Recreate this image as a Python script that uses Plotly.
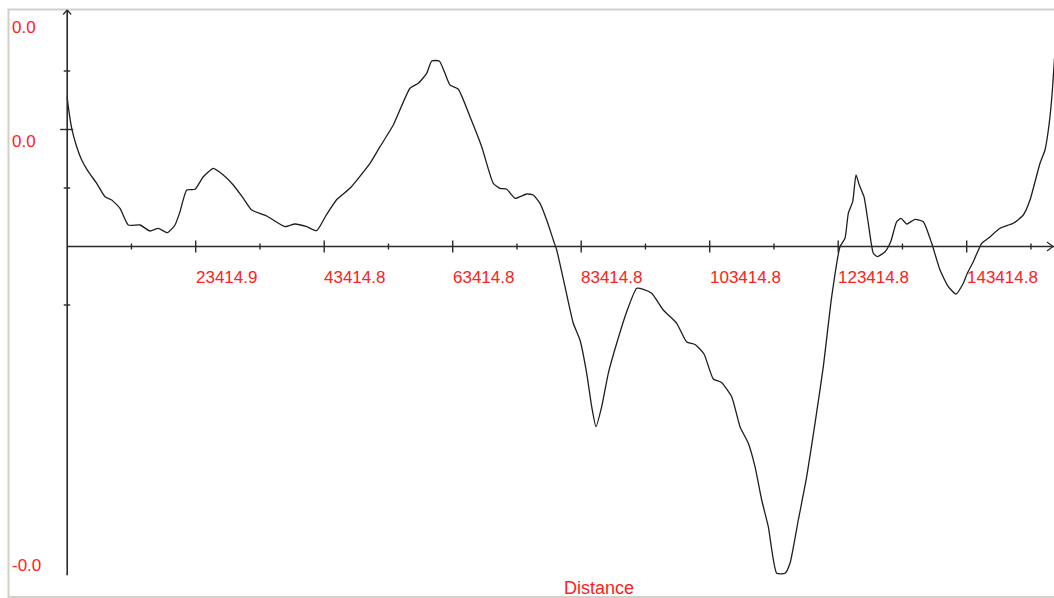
import plotly.graph_objects as go

# Profile: distance along the line (m) and offset (mm)
distance_m = [
    3414.9, 3586, 4115, 4894, 5672, 6699, 8006, 9298, 10341, 11633,
    12925, 14746, 16302, 17594, 18995, 20193, 20971, 22014, 23306, 24598,
    26154, 27710, 29267, 30823, 32131, 34465, 37313, 38870, 40691, 42247,
    43695, 45407, 47430, 48722, 50543, 52099, 54169, 56769, 58061, 59368,
    60146, 61329, 62215, 62994, 64286, 66107, 67928, 69733, 70776, 71819,
    73111, 74931, 75959, 77002, 78044, 79072, 79600, 80891, 82183, 83225,
    84270, 85048, 85717, 86605, 87632, 88939, 90496, 92052, 93079, 94387,
    96192, 98278, 99834, 101126, 102527, 103974, 105250, 106838, 108130, 109422,
    110464, 111507, 112534, 113842, 115133, 115912, 117204, 118511, 119803, 121095,
    122402, 123694, 124472, 124986, 125670, 126184, 126697, 127429, 128098, 128876,
    129499, 130697, 131585, 132518, 133188, 134075, 135367, 136659, 137966, 139258,
    140549, 141748, 142884, 143507, 144440, 145748, 146775, 148596, 150666, 152223,
    153265, 154822, 155600, 156223, 156690, 157079,
]
offset_mm = [
    14.95, 13.98, 11.82, 9.98, 8.65, 7.48, 6.32, 4.98, 4.65, 3.82,
    2.15, 2.15, 1.55, 1.82, 1.38, 2.15, 3.48, 5.65, 5.72, 6.98,
    7.82, 7.15, 6.15, 4.82, 3.65, 3.05, 1.98, 2.25, 1.98, 1.58,
    3.10, 4.72, 5.82, 6.82, 8.32, 9.98, 12.15, 15.82, 16.32, 17.32,
    18.55, 18.55, 17.32, 16.15, 15.72, 12.98, 9.98, 6.32, 5.82, 5.72,
    4.82, 5.25, 5.15, 4.32, 2.65, 0.65, -0.35, -4.02, -7.68, -9.35,
    -12.68, -16.02, -18.02, -16.02, -12.68, -9.68, -6.52, -4.18, -4.28, -4.68,
    -6.35, -7.68, -9.55, -9.80, -10.75, -13.25, -13.60, -15.02, -18.02, -19.68,
    -22.02, -25.35, -28.02, -32.68, -32.68, -31.68, -27.35, -23.02, -17.68, -12.02,
    -5.02, -0.02, 0.82, 3.32, 4.48, 7.15, 6.15, 4.98, 2.32, -0.68,
    -1.02, -0.52, 0.48, 2.48, 2.82, 2.25, 2.72, 2.48, 0.32, -2.35,
    -4.02, -4.75, -3.68, -2.68, -1.52, 0.32, 0.82, 1.82, 2.32, 3.15,
    4.65, 8.32, 9.65, 12.15, 15.15, 18.85,
]

# Axis ticks
x_major_ticks = [23414.9, 43414.8, 63414.8, 83414.8, 103414.8, 123414.8, 143414.8]
x_major_labels = ["23414.9", "43414.8", "63414.8", "83414.8", "103414.8", "123414.8", "143414.8"]
x_minor_ticks = [13414.9, 33414.9, 53414.8, 73414.8, 93414.8, 113414.8, 133414.8, 153414.8]
y_minor_ticks = [17.55, 5.85, -5.85]
y_major_ticks = [11.7]

x_origin = 3414.9
x_range = [-7044.0, 157000.0]
y_range = [-35.15, 24.65]
y_top = 23.65
y_bottom = min(offset_mm)

W, H = 1054, 598
px_x = (x_range[1] - x_range[0]) / W     # metres per pixel
px_y = (y_range[1] - y_range[0]) / H     # mm per pixel

AXIS = "#2a2a2a"
RED = "#ff2020"
FONT = "Liberation Sans, Arial, sans-serif"

fig = go.Figure()
fig.add_trace(go.Scatter(
    x=distance_m, y=offset_mm, mode="lines",
    line=dict(color="#1e1e1e", width=1.3, shape="spline", smoothing=0.5),
    hoverinfo="skip", showlegend=False,
))

shapes = []

def seg(x0, y0, x1, y1, width=1.6):
    shapes.append(dict(type="line", xref="x", yref="y", x0=x0, y0=y0, x1=x1, y1=y1,
                       line=dict(color=AXIS, width=width), layer="above"))

# vertical axis with arrow
seg(x_origin, y_bottom - 0.2, x_origin, y_top)
seg(x_origin - 4 * px_x, y_top - 4.5 * px_y, x_origin, y_top, 1.2)
seg(x_origin + 4 * px_x, y_top - 4.5 * px_y, x_origin, y_top, 1.2)

# horizontal axis with arrow
x_tip = x_range[1] - 1 * px_x
seg(x_origin, 0, x_range[1], 0)
seg(x_tip - 6 * px_x, 4.5 * px_y, x_tip, 0, 1.2)
seg(x_tip - 6 * px_x, -4.5 * px_y, x_tip, 0, 1.2)

for t in x_major_ticks:
    seg(t, -6 * px_y, t, 6 * px_y, 1.4)
for t in x_minor_ticks:
    seg(t, -3 * px_y, t, 3 * px_y, 1.4)
for t in y_minor_ticks:
    seg(x_origin - 3.5 * px_x, t, x_origin + 3 * px_x, t, 1.4)
for t in y_major_ticks:
    seg(x_origin - 7 * px_x, t, x_origin + 6 * px_x, t, 1.4)

# frame
shapes.append(dict(type="rect", xref="paper", yref="paper",
                   x0=8.5 / W, x1=1.02, y0=1 - 597 / H, y1=1 - 9.5 / H,
                   line=dict(color="#d4d0c8", width=2), layer="below"))

annotations = []
for t, lab in zip(x_major_ticks, x_major_labels):
    annotations.append(dict(x=t, y=-30.5 * px_y, xref="x", yref="y", text=lab,
                            showarrow=False, xanchor="left", yanchor="middle",
                            xshift=-2, font=dict(family=FONT, size=17, color=RED)))

def ylab(v, yanchor, yshift):
    annotations.append(dict(x=12 / W, xref="paper", y=v, yref="y",
                            text=f"{v / 1000:.1f}", showarrow=False,
                            xanchor="left", yanchor=yanchor, yshift=yshift, xshift=-2,
                            font=dict(family=FONT, size=17, color=RED)))

ylab(y_top, "top", -6)
ylab(y_major_ticks[0], "top", 0)
ylab(y_bottom, "bottom", -4)

annotations.append(dict(x=598.5 / W, y=1 - 588 / H, xref="paper", yref="paper",
                        text="Distance", showarrow=False, xanchor="center", yanchor="middle",
                        font=dict(family=FONT, size=18, color=RED)))

fig.update_layout(
    width=W, height=H, autosize=False,
    margin=dict(l=0, r=0, t=0, b=0, pad=0),
    paper_bgcolor="white", plot_bgcolor="white",
    xaxis=dict(range=x_range, visible=False, fixedrange=True),
    yaxis=dict(range=y_range, visible=False, fixedrange=True),
    shapes=shapes, annotations=annotations,
    showlegend=False,
)

fig.write_html("out.html", config={"displayModeBar": False})
